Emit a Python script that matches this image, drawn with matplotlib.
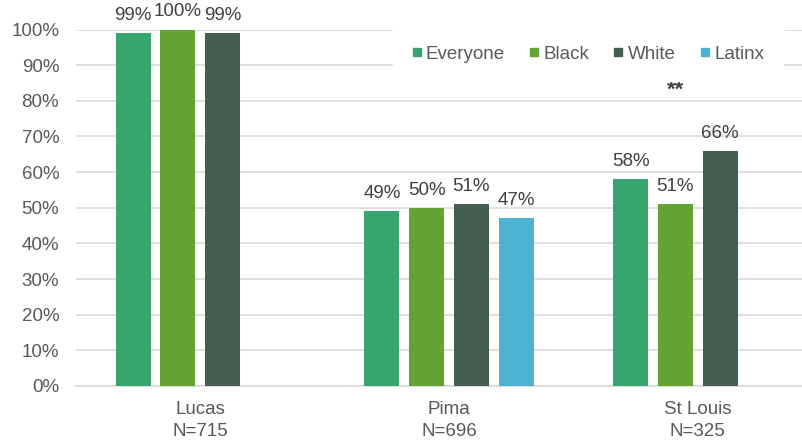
import numpy as np
import matplotlib
matplotlib.use("Agg")
import matplotlib.pyplot as plt
from matplotlib.lines import Line2D

plt.rcParams["font.family"] = ["Liberation Sans", "DejaVu Sans"]

counties = ["Lucas", "Pima", "St Louis"]
sample_sizes = ["N=715", "N=696", "N=325"]
groups = ["Everyone", "Black", "White", "Latinx"]
colors = ["#36A66E", "#62A334", "#445F50", "#4BB3CF"]

# share per county and group, nan where the group was not reported
everyone = [0.99, 0.49, 0.58]
black = [1.00, 0.50, 0.51]
white = [0.99, 0.51, 0.66]
latinx = [np.nan, 0.47, np.nan]
series = [everyone, black, white, latinx]

# significance marker: (county index, group index, text)
sig_marks = [(2, 1, "**")]

label_color = "#404040"
tick_color = "#595959"
grid_color = "#D9D9D9"

fig = plt.figure(figsize=(8.03, 4.42), dpi=100)
ax = fig.add_axes([75.8 / 803, 1 - 386 / 442, 746.4 / 803, 356.5 / 442])

x = np.arange(len(counties))
step = 0.1797
width = 0.1407
offsets = (np.arange(len(groups)) - 1.5) * step

for gi, (name, vals, col) in enumerate(zip(groups, series, colors)):
    vals = np.asarray(vals, dtype=float)
    ok = ~np.isnan(vals)
    xs = x[ok] + offsets[gi]
    ax.bar(xs, vals[ok], width=width, color=col, zorder=3)
    for xi, v in zip(xs, vals[ok]):
        ax.annotate(f"{v * 100:.0f}%", (xi, v), xytext=(0, 9.4),
                    textcoords="offset points", ha="center", va="baseline",
                    fontsize=13.5, color=label_color)

for ci, gi, txt in sig_marks:
    ax.text(x[ci] + offsets[gi], 0.815, txt, ha="center", va="baseline",
            fontsize=16, fontweight="bold", color=label_color)

ax.set_xlim(-0.5, len(counties) - 0.5)
ax.set_ylim(0, 1)
ax.set_yticks(np.arange(0, 1.01, 0.1))
ax.set_yticklabels([f"{int(round(t * 100))}%" for t in np.arange(0, 1.01, 0.1)])
ax.set_xticks(x)
ax.set_xticklabels([f"{c}\n{n}" for c, n in zip(counties, sample_sizes)],
                   linespacing=1.38)
ax.tick_params(axis="y", length=0, pad=12, labelsize=13.5, labelcolor=tick_color)
ax.tick_params(axis="x", length=0, pad=11, labelsize=13.5, labelcolor=tick_color)

ax.grid(axis="y", color=grid_color, linewidth=1.2, zorder=0)
ax.set_axisbelow(True)
for side in ["top", "right", "left"]:
    ax.spines[side].set_visible(False)
ax.spines["bottom"].set_color(grid_color)
ax.spines["bottom"].set_linewidth(1.2)

handles = [Line2D([], [], marker="s", linestyle="", markersize=5.5, color=c)
           for c in colors]
leg = fig.legend(handles, groups, loc="center", bbox_to_anchor=(588 / 803, 1 - 54 / 442),
                 ncol=4, frameon=True, fontsize=13.5, handlelength=0.5,
                 handletextpad=0.25, columnspacing=1.3, borderpad=1.0)
leg.get_frame().set_facecolor("white")
leg.get_frame().set_edgecolor("white")
leg.get_frame().set_alpha(1)
for t in leg.get_texts():
    t.set_color(tick_color)

fig.savefig("out.png", dpi=100)
